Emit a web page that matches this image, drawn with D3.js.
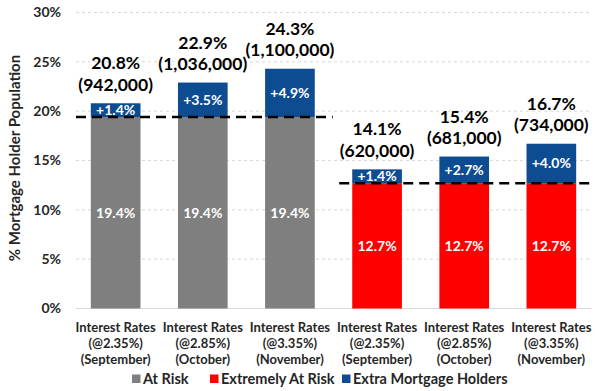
<!DOCTYPE html>
<html>
<head>
<meta charset="utf-8">
<script src="https://cdn.jsdelivr.net/npm/d3@7"></script>
<style>
  body { margin: 0; background: #fff; }
  text { font-family: Lato, "Liberation Sans", sans-serif; font-weight: bold; }
</style>
</head>
<body>
<div id="chart"></div>
<script>
// data
const categories = ["Sep-low", "Oct-mid", "Nov-high", "Sep-low-x", "Oct-mid-x", "Nov-high-x"];
const xLabels = [
    ["Interest Rates", "(@2.35%)", "(September)"],
    ["Interest Rates", "(@2.85%)", "(October)"],
    ["Interest Rates", "(@3.35%)", "(November)"],
    ["Interest Rates", "(@2.35%)", "(September)"],
    ["Interest Rates", "(@2.85%)", "(October)"],
    ["Interest Rates", "(@3.35%)", "(November)"]
];
const baseValues = [19.4, 19.4, 19.4, 12.7, 12.7, 12.7];
const baseSeries = ["At Risk", "At Risk", "At Risk", "Extremely At Risk", "Extremely At Risk", "Extremely At Risk"];
const extraValues = [1.4, 3.5, 4.9, 1.4, 2.7, 4.0];
const totalLabels = ["20.8%", "22.9%", "24.3%", "14.1%", "15.4%", "16.7%"];
const countLabels = ["(942,000)", "(1,036,000)", "(1,100,000)", "(620,000)", "(681,000)", "(734,000)"];
const yTicks = [0, 5, 10, 15, 20, 25, 30];
const legendItems = ["At Risk", "Extremely At Risk", "Extra Mortgage Holders"];

const colors = {
    "At Risk": "#7f7f7f",
    "Extremely At Risk": "#ff0000",
    "Extra Mortgage Holders": "#0e4c92"
};

const W = 600, H = 391;
const margin = { top: 12.5, right: 9, bottom: 82.5, left: 76 };
const width = W - margin.left - margin.right;
const height = H - margin.top - margin.bottom;

const svg = d3.select("#chart").append("svg")
    .attr("width", W)
    .attr("height", H);

const g = svg.append("g")
    .attr("transform", `translate(${margin.left},${margin.top})`);

const x = d3.scaleBand()
    .domain(categories)
    .range([0, width])
    .paddingInner(0.43)
    .paddingOuter(0.17);

const y = d3.scaleLinear()
    .domain([0, 30])
    .range([height, 0]);

// gridlines
g.selectAll(".grid")
    .data(yTicks.filter(d => d > 0))
    .enter().append("line")
    .attr("x1", 0)
    .attr("x2", width)
    .attr("y1", d => y(d))
    .attr("y2", d => y(d))
    .attr("stroke", "#d9d9d9")
    .attr("stroke-dasharray", "3,3");

// y axis labels
const yAxis = g.append("g")
    .call(d3.axisLeft(y).tickValues(yTicks).tickFormat(d => d + "%").tickSize(0).tickPadding(15));
yAxis.select(".domain").remove();
yAxis.selectAll("text")
    .style("font-size", "14px")
    .attr("fill", "#262626");

// baseline
g.append("line")
    .attr("x1", 0).attr("x2", width)
    .attr("y1", y(0)).attr("y2", y(0))
    .attr("stroke", "#d9d9d9");

// base bars
g.selectAll(".base")
    .data(categories)
    .enter().append("rect")
    .attr("x", d => x(d))
    .attr("width", x.bandwidth())
    .attr("y", (d, i) => y(baseValues[i]))
    .attr("height", (d, i) => y(0) - y(baseValues[i]))
    .attr("fill", (d, i) => colors[baseSeries[i]]);

// extra bars
g.selectAll(".extra")
    .data(categories)
    .enter().append("rect")
    .attr("x", d => x(d))
    .attr("width", x.bandwidth())
    .attr("y", (d, i) => y(baseValues[i] + extraValues[i]))
    .attr("height", (d, i) => y(baseValues[i]) - y(baseValues[i] + extraValues[i]))
    .attr("fill", colors["Extra Mortgage Holders"]);

// dashed reference lines
const refLines = [
    { v: baseValues[0], x1: 0, x2: x(categories[2]) + x.bandwidth() + 18 },
    { v: baseValues[3], x1: x(categories[3]) - 13, x2: width }
];
g.selectAll(".ref")
    .data(refLines)
    .enter().append("line")
    .attr("x1", d => d.x1)
    .attr("x2", d => d.x2)
    .attr("y1", d => y(d.v))
    .attr("y2", d => y(d.v))
    .attr("stroke", "#000")
    .attr("stroke-width", 2.5)
    .attr("stroke-dasharray", "10,6");

// labels inside bars
g.selectAll(".baseLabel")
    .data(categories)
    .enter().append("text")
    .attr("x", d => x(d) + x.bandwidth() / 2)
    .attr("y", (d, i) => y(baseValues[i] / 2))
    .attr("dy", "0.35em")
    .attr("text-anchor", "middle")
    .attr("fill", "#fff")
    .style("font-size", "14px")
    .text((d, i) => baseValues[i].toFixed(1) + "%");

g.selectAll(".extraLabel")
    .data(categories)
    .enter().append("text")
    .attr("x", d => x(d) + x.bandwidth() / 2)
    .attr("y", (d, i) => y(baseValues[i] + extraValues[i] / 2))
    .attr("dy", "0.35em")
    .attr("text-anchor", "middle")
    .attr("fill", "#fff")
    .style("font-size", "14px")
    .text((d, i) => "+" + extraValues[i].toFixed(1) + "%");

// totals above bars
const totals = g.selectAll(".total")
    .data(categories)
    .enter().append("text")
    .attr("text-anchor", "middle")
    .attr("fill", "#000")
    .style("font-size", "17.5px");
totals.append("tspan")
    .attr("x", d => x(d) + x.bandwidth() / 2)
    .attr("y", (d, i) => y(baseValues[i] + extraValues[i]) - 34)
    .text((d, i) => totalLabels[i]);
totals.append("tspan")
    .attr("x", d => x(d) + x.bandwidth() / 2)
    .attr("y", (d, i) => y(baseValues[i] + extraValues[i]) - 12.5)
    .text((d, i) => countLabels[i]);

// x labels
const xl = g.selectAll(".xlabel")
    .data(categories)
    .enter().append("text")
    .attr("text-anchor", "middle")
    .attr("fill", "#262626")
    .style("font-size", "13px");
xl.each(function (d, i) {
    const t = d3.select(this);
    xLabels[i].forEach((line, j) => {
        t.append("tspan")
            .attr("x", x(d) + x.bandwidth() / 2)
            .attr("y", height + 23 + j * 16)
            .text(line);
    });
});

// y title
svg.append("text")
    .attr("transform", `translate(20,158) rotate(-90)`)
    .attr("text-anchor", "middle")
    .attr("fill", "#262626")
    .style("font-size", "15px")
    .text("% Mortgage Holder Population");

// legend
const legendX = [132, 210, 342];
const legend = svg.selectAll(".legend")
    .data(legendItems)
    .enter().append("g")
    .attr("transform", (d, i) => `translate(${legendX[i]},374.5)`);
legend.append("rect")
    .attr("width", 8.5)
    .attr("height", 8.5)
    .attr("fill", d => colors[d]);
legend.append("text")
    .attr("x", 11)
    .attr("y", 9.5)
    .attr("fill", "#262626")
    .style("font-size", "14.5px")
    .text(d => d);
</script>
</body>
</html>
